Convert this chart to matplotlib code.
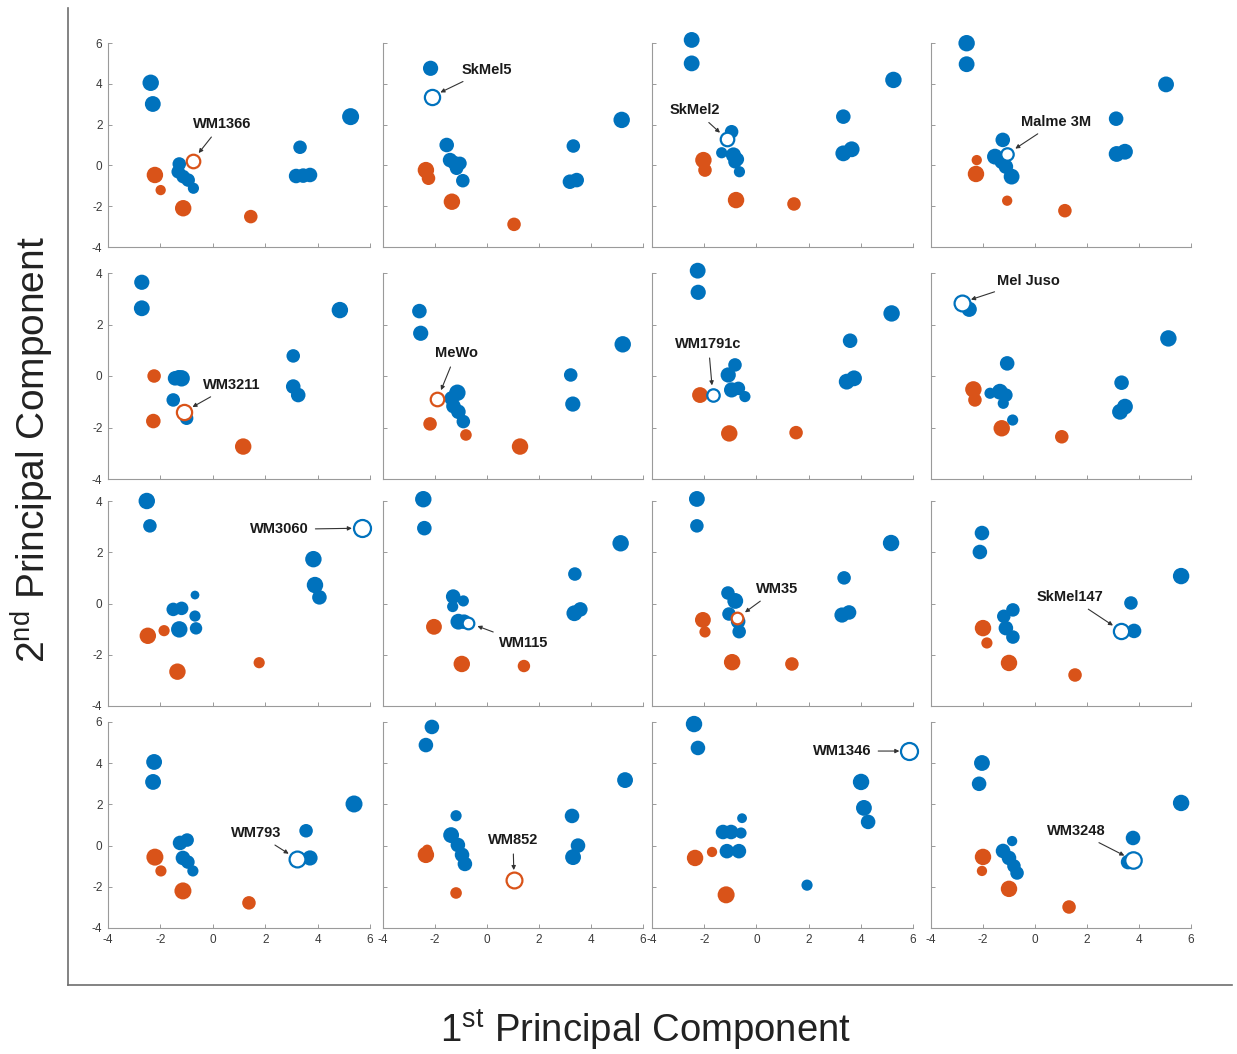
import matplotlib
matplotlib.use('Agg')
import matplotlib.pyplot as plt

plt.rcParams['font.family'] = ['Liberation Sans', 'DejaVu Sans']
plt.rcParams['mathtext.fontset'] = 'custom'
plt.rcParams['mathtext.rm'] = 'Liberation Sans'
plt.rcParams['axes.unicode_minus'] = False

BLUE = '#0072BD'
ORANGE = '#D95319'

# one entry per panel, row by row
cell_lines = ['WM1366', 'SkMel5', 'SkMel2', 'Malme 3M',
              'WM3211', 'MeWo', 'WM1791c', 'Mel Juso',
              'WM3060', 'WM115', 'WM35', 'SkMel147',
              'WM793', 'WM852', 'WM1346', 'WM3248']

blue_x = [
    [-2.37, -2.29, 5.26, 3.33, 3.18, 3.45, 3.71, -1.28, -1.32, -1.13, -0.94, -0.74],
    [-2.17, 5.18, 3.32, 3.19, 3.45, -1.55, -1.42, -1.23, -1.04, -1.17, -0.93],
    [-2.48, -2.48, 5.25, 3.33, 3.33, 3.65, -0.95, -1.33, -0.88, -0.73, -0.82, -0.65],
    [-2.63, -2.63, 5.04, 3.12, 3.14, 3.46, -1.24, -1.54, -1.28, -1.12, -0.9],
    [-2.71, -2.71, 4.85, 3.07, 3.07, 3.26, -1.44, -1.19, -1.3, -1.51, -1.0],
    [-2.6, -2.55, 5.22, 3.22, 3.3, -1.14, -1.36, -1.29, -1.1, -0.91],
    [-2.25, -2.23, 5.18, 3.59, 3.46, 3.74, -0.82, -1.08, -0.95, -0.69, -0.44],
    [-2.53, 5.13, -1.07, 3.33, 3.27, 3.46, -1.73, -1.35, -1.12, -1.22, -0.86],
    [-2.52, -2.4, 3.84, 3.9, 4.07, -0.68, -1.51, -1.19, -0.68, -1.28, -0.64],
    [-2.45, -2.41, 5.14, 3.38, 3.36, 3.59, -1.3, -0.91, -1.32, -1.1, -0.88],
    [-2.28, -2.28, 5.16, 3.36, 3.28, 3.55, -1.09, -0.81, -1.05, -0.7, -0.66],
    [-2.04, -2.12, 5.62, 3.69, 3.81, -0.85, -1.2, -1.12, -0.85],
    [-2.24, -2.28, 5.39, 3.56, 3.71, -1.25, -0.98, -1.14, -0.95, -0.76],
    [-2.12, -2.35, 5.31, 3.27, 3.31, 3.5, -1.19, -1.38, -1.12, -0.96, -0.85],
    [-2.39, -2.24, 4.01, 4.12, 4.28, 1.94, -1.28, -0.97, -0.55, -0.59, -1.13, -0.67],
    [-2.04, -2.15, 5.62, 3.77, 3.58, -0.88, -1.23, -1.0, -0.81, -0.69],
]
blue_y = [
    [4.05, 3.01, 2.39, 0.89, -0.52, -0.5, -0.47, 0.07, -0.31, -0.55, -0.72, -1.12],
    [4.76, 2.23, 0.95, -0.8, -0.72, 1.0, 0.26, 0.1, 0.1, -0.14, -0.75],
    [6.15, 5.0, 4.19, 2.39, 0.59, 0.79, 1.65, 0.62, 0.51, 0.3, 0.18, -0.31],
    [5.99, 4.96, 3.97, 2.29, 0.56, 0.67, 1.25, 0.43, 0.18, -0.06, -0.55],
    [3.64, 2.63, 2.56, 0.78, -0.41, -0.74, -0.09, -0.09, -0.05, -0.93, -1.64],
    [2.52, 1.66, 1.23, 0.04, -1.09, -0.65, -0.87, -1.17, -1.39, -1.77],
    [4.09, 3.25, 2.43, 1.37, -0.22, -0.09, 0.43, 0.04, -0.54, -0.48, -0.8],
    [2.59, 1.46, 0.49, -0.26, -1.39, -1.19, -0.67, -0.61, -0.74, -1.06, -1.71],
    [4.0, 3.03, 1.73, 0.72, 0.24, 0.33, -0.23, -0.19, -0.49, -1.01, -0.97],
    [4.07, 2.94, 2.35, 1.15, -0.38, -0.23, 0.27, 0.1, -0.12, -0.71, -0.71],
    [4.08, 3.03, 2.36, 1.0, -0.45, -0.35, 0.41, 0.1, -0.41, -0.7, -1.1],
    [2.75, 2.01, 1.07, 0.02, -1.07, -0.25, -0.5, -0.96, -1.31],
    [4.06, 3.09, 2.02, 0.72, -0.6, 0.13, 0.27, -0.6, -0.8, -1.23],
    [5.76, 4.88, 3.18, 1.44, -0.56, 0.0, 1.45, 0.51, 0.03, -0.45, -0.89],
    [5.9, 4.74, 3.09, 1.83, 1.15, -1.92, 0.66, 0.66, 1.33, 0.61, -0.27, -0.27],
    [4.01, 3.0, 2.07, 0.37, -0.8, 0.22, -0.26, -0.6, -0.99, -1.33],
]
blue_size = [
    [140, 130, 150, 95, 110, 110, 110, 95, 95, 95, 95, 65],
    [120, 140, 95, 110, 110, 110, 110, 110, 95, 95, 95],
    [130, 130, 140, 110, 130, 130, 95, 65, 120, 95, 95, 65],
    [140, 130, 130, 110, 130, 130, 110, 130, 110, 110, 130],
    [120, 130, 140, 95, 110, 110, 110, 140, 110, 95, 95],
    [110, 120, 140, 95, 120, 140, 110, 110, 110, 95],
    [130, 120, 140, 110, 130, 130, 95, 120, 120, 95, 65],
    [120, 140, 110, 110, 130, 130, 65, 130, 95, 65, 65],
    [140, 95, 140, 140, 110, 40, 95, 95, 65, 140, 80],
    [140, 110, 140, 95, 130, 110, 110, 65, 65, 130, 110],
    [130, 95, 140, 95, 120, 110, 95, 130, 95, 110, 95],
    [110, 110, 140, 95, 110, 95, 95, 110, 95],
    [130, 130, 150, 95, 120, 110, 95, 110, 95, 65],
    [110, 110, 130, 110, 130, 110, 65, 130, 110, 110, 110],
    [140, 110, 140, 130, 110, 65, 110, 110, 50, 65, 110, 110],
    [130, 110, 140, 110, 110, 55, 110, 110, 95, 95],
]

orange_x = [
    [-2.21, -1.99, -1.13, 1.45],
    [-2.35, -2.25, -1.35, 1.04],
    [-2.03, -1.97, -0.78, 1.44],
    [-2.24, -2.27, -1.07, 1.15],
    [-2.24, -2.27, 1.16],
    [-2.19, -0.81, 1.27],
    [-2.16, -1.04, 1.52],
    [-2.37, -2.31, -1.28, 1.03],
    [-2.48, -1.86, -1.35, 1.77],
    [-2.04, -0.97, 1.42],
    [-2.05, -1.97, -0.93, 1.36],
    [-2.0, -1.85, -1.0, 1.54],
    [-2.21, -1.98, -1.14, 1.38],
    [-2.35, -2.3, -1.19],
    [-2.35, -1.7, -1.16],
    [-2.0, -2.04, -1.0, 1.31],
]
orange_y = [
    [-0.47, -1.21, -2.1, -2.51],
    [-0.23, -0.63, -1.78, -2.89],
    [0.26, -0.23, -1.7, -1.89],
    [0.26, -0.42, -1.73, -2.22],
    [0.0, -1.75, -2.74],
    [-1.86, -2.29, -2.74],
    [-0.74, -2.23, -2.2],
    [-0.52, -0.93, -2.03, -2.36],
    [-1.26, -1.06, -2.66, -2.31],
    [-0.91, -2.36, -2.44],
    [-0.64, -1.11, -2.29, -2.36],
    [-0.96, -1.54, -2.32, -2.79],
    [-0.56, -1.23, -2.2, -2.78],
    [-0.45, -0.2, -2.3],
    [-0.6, -0.31, -2.39],
    [-0.55, -1.23, -2.1, -2.98],
]
orange_size = [
    [140, 55, 140, 95],
    [140, 95, 140, 95],
    [140, 95, 140, 95],
    [55, 140, 55, 95],
    [95, 110, 140],
    [95, 70, 140],
    [130, 140, 95],
    [140, 95, 140, 95],
    [140, 65, 140, 65],
    [130, 140, 80],
    [130, 65, 140, 95],
    [140, 65, 140, 95],
    [150, 65, 150, 95],
    [140, 55, 70],
    [140, 55, 150],
    [140, 55, 140, 95],
]

# the highlighted (open) cell line in each panel
open_x = [-0.77, -2.13, -1.12, -1.07, -1.1, -1.91, -1.67, -2.82,
          5.68, -0.72, -0.74, 3.31, 3.21, 1.04, 5.85, 3.77]
open_y = [0.23, 3.37, 1.28, 0.56, -1.39, -0.9, -0.74, 2.85,
          2.94, -0.75, -0.57, -1.07, -0.65, -1.66, 4.59, -0.7]
open_size = [95, 120, 95, 80, 120, 95, 80, 130,
             150, 70, 70, 120, 130, 130, 150, 140]
open_group = ['o', 'b', 'b', 'b', 'o', 'o', 'b', 'b',
              'b', 'b', 'o', 'b', 'b', 'o', 'b', 'b']

# where each cell-line name sits
label_x = [0.34, 0.0, -2.35, 0.81, 0.72, -1.19, -1.84, -0.26,
           2.53, 1.4, 0.79, 1.35, 1.65, 1.0, 3.28, 1.58]
label_y = [2.03, 4.68, 2.72, 2.14, -0.35, 0.88, 1.24, 3.7,
           2.89, -1.55, 0.57, 0.25, 0.61, 0.27, 4.59, 0.71]

row_ylim = [(-4, 6), (-4, 4), (-4, 4), (-4, 6)]

# panel frames in pixels: (x=-4, x=6) per column, (top, bottom) per row
W, H = 1237, 1054
col_px = [(108, 370), (383, 643), (652, 913), (931, 1191)]
row_px = [(43, 247), (273, 479), (501, 706), (722, 928)]

fig = plt.figure(figsize=(W / 100, H / 100), dpi=100)

# outer frame carrying the shared axis titles
outer = fig.add_axes([68 / W, 1 - 985 / H, (1232 - 68) / W, (985 - 8) / H])
outer.set_xticks([])
outer.set_yticks([])
for s in ['top', 'right']:
    outer.spines[s].set_visible(False)
for s in ['left', 'bottom']:
    outer.spines[s].set_color('#6e6e6e')
    outer.spines[s].set_linewidth(1.2)
outer.patch.set_alpha(0)
fig.text(645 / W, 1 - 1030 / H, r'1$^{\mathrm{st}}$ Principal Component',
         ha='center', va='center', fontsize=27.5, color='#222222')
fig.text(32 / W, 1 - 450 / H, r'2$^{\mathrm{nd}}$ Principal Component',
         ha='center', va='center', rotation=90, fontsize=28, color='#222222')

for i in range(16):
    r, c = divmod(i, 4)
    x0, x1 = col_px[c]
    t, b = row_px[r]
    ax = fig.add_axes([x0 / W, 1 - b / H, (x1 - x0) / W, (b - t) / H])
    ax.patch.set_alpha(0)

    ax.scatter(blue_x[i], blue_y[i], s=blue_size[i], color=BLUE,
               edgecolors='none', clip_on=False, zorder=3)
    ax.scatter(orange_x[i], orange_y[i], s=orange_size[i], color=ORANGE,
               edgecolors='none', clip_on=False, zorder=3)
    ring = BLUE if open_group[i] == 'b' else ORANGE
    ax.scatter([open_x[i]], [open_y[i]], s=open_size[i], facecolors='white',
               edgecolors=ring, linewidths=1.6, clip_on=False, zorder=4)

    ax.annotate(cell_lines[i], xy=(open_x[i], open_y[i]),
                xytext=(label_x[i], label_y[i]),
                ha='center', va='center', fontsize=10.5, fontweight='bold',
                color='#1a1a1a', annotation_clip=False, zorder=5,
                arrowprops=dict(arrowstyle='-|>', color='#333333', lw=0.8,
                                mutation_scale=6, shrinkA=3, shrinkB=7))

    ax.set_xlim(-4, 6)
    ax.set_ylim(*row_ylim[r])
    ax.set_xticks(range(-4, 7, 2))
    ax.set_yticks(range(row_ylim[r][0], row_ylim[r][1] + 1, 2))
    ax.tick_params(direction='in', length=3, width=0.6, color='#8a8a8a',
                   labelsize=8.5, labelcolor='#3a3a3a', pad=4,
                   labelbottom=(r == 3), labelleft=(c == 0))
    for s in ['top', 'right']:
        ax.spines[s].set_visible(False)
    for s in ['left', 'bottom']:
        ax.spines[s].set_color('#9a9a9a')
        ax.spines[s].set_linewidth(0.8)

fig.savefig('out.png', dpi=100)
